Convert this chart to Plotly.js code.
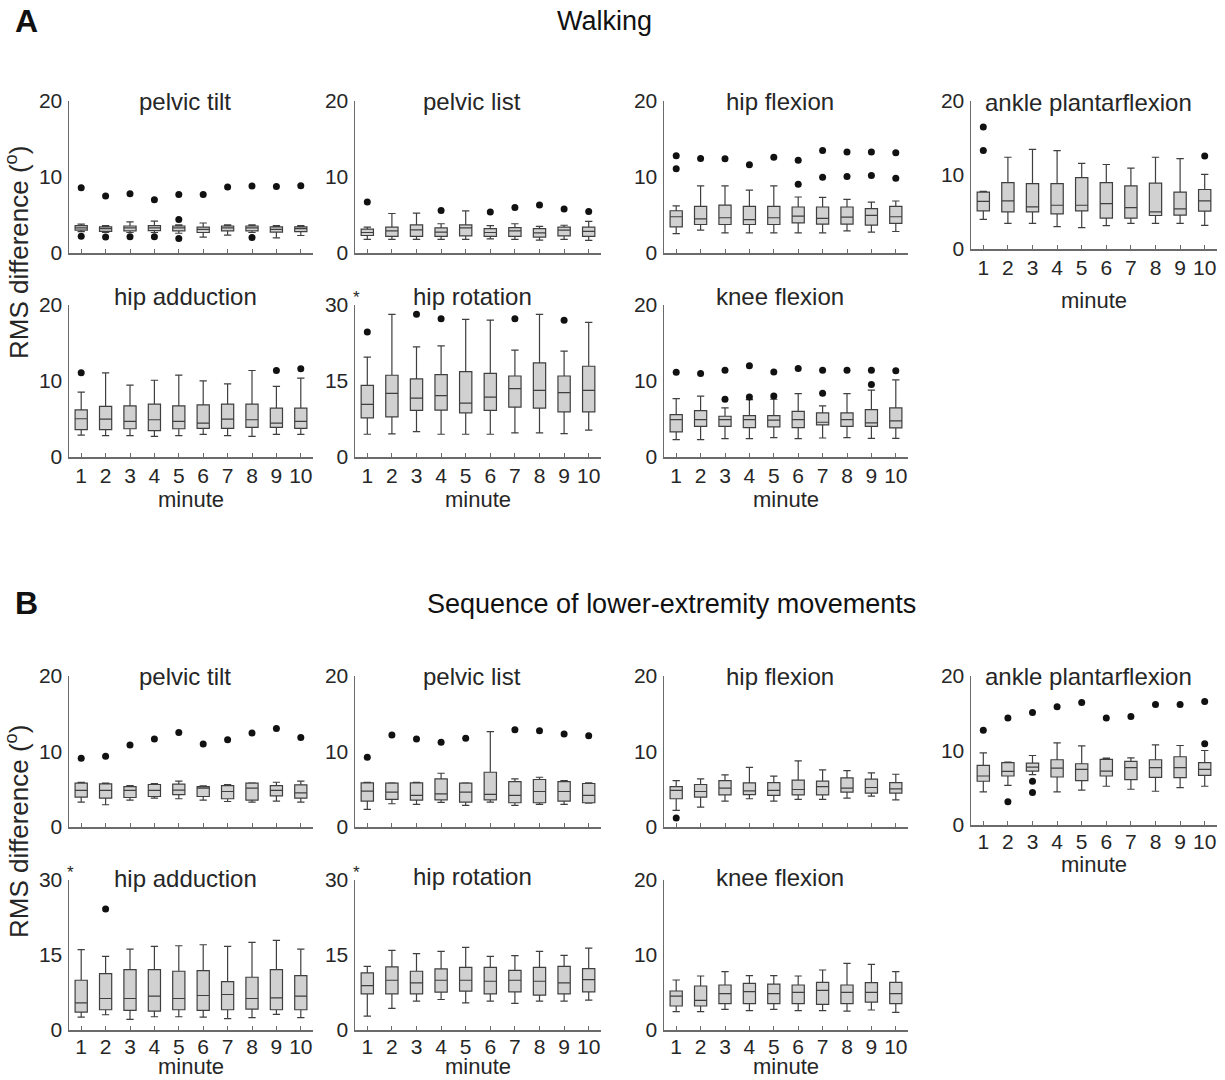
<!DOCTYPE html>
<html>
<head>
<meta charset="utf-8">
<script src="https://cdn.plot.ly/plotly-3.0.1.min.js"></script>
<style>
  html, body { margin: 0; padding: 0; background: #ffffff; }
  #chart { width: 1225px; height: 1080px; }
</style>
</head>
<body>
<div id="chart"></div>
<script>
// ---------- data ----------
// x positions and tick labels (minute of recording)
const minutes = [1, 2, 3, 4, 5, 6, 7, 8, 9, 10];
const minuteLabels = ['1', '2', '3', '4', '5', '6', '7', '8', '9', '10'];

// Each box row: [lower whisker, Q1, median, Q3, upper whisker] per minute (degrees)
// Each outlier row: outlying values for that minute

// A. Walking
const walkPelvicTilt = [
  [2.8, 3.0, 3.3, 3.6, 3.8], [2.7, 2.85, 3.2, 3.45, 3.6], [2.7, 2.9, 3.3, 3.55, 4.1],
  [2.7, 2.95, 3.3, 3.6, 4.2], [2.6, 2.9, 3.3, 3.55, 3.7], [2.1, 2.7, 3.1, 3.4, 3.95],
  [2.35, 2.9, 3.3, 3.55, 3.7], [2.7, 2.9, 3.3, 3.55, 3.7], [2.0, 2.75, 3.1, 3.45, 3.6],
  [2.3, 2.8, 3.2, 3.45, 3.6]
];
const walkPelvicTiltOut = [[8.6, 2.2], [7.5, 2.1], [7.8, 2.15], [7.0, 2.15], [7.7, 4.4, 1.9],
  [7.7], [8.7], [8.8, 2.05], [8.75], [8.85]];

const walkPelvicList = [
  [1.8, 2.3, 2.7, 3.15, 3.4], [1.8, 2.2, 2.9, 3.4, 5.2], [1.8, 2.2, 3.05, 3.7, 5.25],
  [1.8, 2.2, 2.75, 3.3, 3.85], [1.8, 2.25, 3.3, 3.7, 5.55], [1.85, 2.2, 2.7, 3.2, 3.6],
  [1.8, 2.2, 2.9, 3.35, 3.85], [1.7, 2.1, 2.65, 3.2, 3.5], [1.8, 2.25, 3.0, 3.4, 3.65],
  [1.65, 2.2, 2.85, 3.4, 4.15]
];
const walkPelvicListOut = [[6.7], [], [], [5.6], [], [5.4], [6.0], [6.3], [5.8], [5.45]];

const walkHipFlexion = [
  [2.56, 3.44, 4.77, 5.56, 6.2], [3.0, 3.75, 4.5, 6.14, 8.83], [2.65, 3.75, 4.64, 6.3, 8.83],
  [2.65, 3.75, 4.4, 6.14, 8.26], [2.65, 3.75, 4.64, 6.14, 8.83], [2.65, 3.97, 4.86, 6.05, 7.37],
  [2.65, 3.8, 4.55, 6.05, 7.33], [2.9, 3.8, 4.72, 6.05, 7.06], [2.74, 3.66, 4.94, 5.83, 6.7],
  [2.83, 3.89, 4.77, 6.14, 6.84]
];
const walkHipFlexionOut = [[12.8, 11.1], [12.45], [12.4], [11.6], [12.6], [12.2, 9.05],
  [13.5, 9.98], [13.3, 10.07], [13.3, 10.2], [13.2, 9.85]];

const walkAnklePlantarflexion = [
  [4.0, 5.16, 6.44, 7.69, 7.8], [3.47, 5.02, 6.49, 8.98, 12.4], [3.47, 5.02, 5.69, 8.84, 13.47],
  [3.02, 4.76, 5.91, 8.84, 13.3], [2.89, 5.16, 5.91, 9.64, 11.56], [3.16, 4.18, 6.13, 8.98, 11.42],
  [3.47, 4.18, 5.6, 8.53, 10.93], [3.47, 4.53, 5.02, 8.89, 12.4], [3.47, 4.58, 5.42, 7.69, 12.2],
  [3.2, 5.11, 6.49, 8.04, 10.09]
];
const walkAnklePlantarflexionOut = [[16.5, 13.3], [], [], [], [], [], [], [], [], [12.58]];

const walkHipAdduction = [
  [2.89, 3.59, 5.03, 6.21, 8.53], [2.8, 3.59, 4.99, 6.65, 11.07], [2.8, 3.72, 4.68, 6.74, 9.45],
  [2.71, 3.46, 4.9, 6.96, 10.1], [2.8, 3.72, 4.68, 6.74, 10.77], [2.98, 3.76, 4.46, 6.87, 10.02],
  [2.8, 3.76, 4.99, 6.96, 9.63], [2.71, 3.89, 4.9, 6.96, 11.38], [2.98, 3.89, 4.46, 6.43, 9.28],
  [2.98, 3.76, 4.68, 6.43, 10.37]
];
const walkHipAdductionOut = [[11.07], [], [], [], [], [], [], [], [11.38], [11.6]];

const walkHipRotation = [
  [4.49, 7.73, 10.38, 14.14, 19.7], [4.56, 7.93, 12.56, 16.13, 28.16], [5.02, 9.19, 11.63, 15.4, 21.74],
  [4.49, 9.25, 12.1, 16.26, 21.94], [4.49, 8.72, 10.64, 16.85, 27.16], [4.49, 9.19, 11.83, 16.52, 27.03],
  [4.76, 9.85, 13.48, 15.99, 21.08], [4.76, 9.65, 13.15, 18.57, 28.16], [4.63, 8.92, 12.69, 15.99, 20.89],
  [5.29, 8.92, 13.15, 17.91, 26.57]
];
const walkHipRotationOut = [[24.65], [], [28.16], [27.3], [], [], [27.3], [], [26.97], []];

const walkKneeFlexion = [
  [2.29, 3.3, 4.92, 5.58, 7.69], [2.29, 4.04, 4.92, 6.11, 8.0], [2.42, 4.04, 4.92, 5.36, 6.46],
  [2.42, 3.87, 4.92, 5.45, 7.55], [2.55, 3.96, 4.84, 5.45, 7.6], [2.42, 3.87, 4.92, 6.0, 8.35],
  [2.5, 4.22, 4.57, 5.8, 6.73], [2.55, 4.04, 4.92, 5.8, 8.35], [2.46, 4.04, 4.48, 6.24, 8.79],
  [2.46, 3.82, 4.75, 6.46, 10.15]
];
const walkKneeFlexionOut = [[11.16], [10.99], [11.43, 7.6], [12.0, 7.91], [11.2, 8.04], [11.65],
  [11.43, 8.4], [11.43], [11.43, 9.54], [11.34]];

// B. Sequence of lower-extremity movements
const seqPelvicTilt = [
  [3.3, 3.96, 4.84, 5.8, 5.93], [2.95, 3.82, 4.84, 5.71, 5.8], [3.56, 3.91, 4.84, 5.36, 5.5],
  [3.82, 4.04, 4.84, 5.63, 5.75], [3.74, 4.3, 4.88, 5.67, 6.07], [3.56, 4.04, 5.14, 5.36, 5.45],
  [3.38, 3.74, 4.7, 5.49, 5.6], [3.3, 3.56, 5.14, 5.8, 5.85], [3.43, 4.13, 4.84, 5.49, 5.93],
  [3.3, 3.82, 4.53, 5.58, 6.07]
];
const seqPelvicTiltOut = [[9.1], [9.36], [10.86], [11.65], [12.53], [10.99], [11.56], [12.44], [13.05], [11.87]];

const seqPelvicList = [
  [2.33, 3.43, 4.75, 5.85, 5.93], [3.08, 3.65, 4.62, 5.8, 5.85], [2.99, 3.56, 4.18, 5.85, 5.9],
  [3.25, 3.6, 4.4, 6.37, 7.12], [2.86, 3.3, 4.62, 5.8, 5.85], [3.3, 3.6, 4.31, 7.25, 12.62],
  [2.86, 3.21, 4.18, 6.02, 6.37], [2.99, 3.21, 4.7, 6.29, 6.59], [2.99, 3.43, 4.7, 6.02, 6.15],
  [3.16, 3.21, 4.18, 5.76, 5.85]
];
const seqPelvicListOut = [[9.23], [12.18], [11.65], [11.21], [11.74], [], [12.88], [12.75], [12.31], [12.09]];

const seqHipFlexion = [
  [2.2, 3.74, 4.84, 5.36, 6.15], [2.64, 3.96, 4.7, 5.63, 6.37], [3.43, 4.26, 5.14, 6.15, 6.9],
  [3.74, 4.3, 4.79, 5.85, 7.91], [3.43, 4.18, 4.84, 5.89, 6.73], [3.65, 4.26, 4.97, 6.2, 8.75],
  [3.65, 4.26, 5.36, 6.07, 7.56], [3.82, 4.62, 5.14, 6.51, 7.47], [4.09, 4.48, 5.23, 6.33, 7.16],
  [3.6, 4.48, 5.05, 5.89, 6.99]
];
const seqHipFlexionOut = [[1.19], [], [], [], [], [], [], [], [], []];

const seqAnklePlantarflexion = [
  [4.44, 5.87, 6.58, 8.0, 9.69], [5.33, 6.58, 7.2, 8.36, 8.44], [6.76, 7.24, 7.78, 8.31, 9.33],
  [4.44, 6.44, 7.64, 8.76, 11.02], [4.67, 5.96, 7.47, 8.22, 10.62], [5.2, 6.58, 7.24, 8.8, 8.98],
  [4.8, 6.09, 7.69, 8.53, 9.02], [4.53, 6.4, 7.69, 8.76, 10.76], [5.02, 6.36, 7.69, 9.16, 10.67],
  [5.2, 6.67, 7.47, 8.36, 10.0]
];
const seqAnklePlantarflexionOut = [[12.71], [14.36, 3.11], [15.11, 5.87, 4.36], [15.87], [16.44],
  [14.36], [14.58], [16.18], [16.18], [16.58, 10.89]];

const seqHipAdduction = [
  [2.59, 3.58, 5.44, 9.95, 16.06], [3.05, 4.05, 6.3, 11.28, 14.73], [2.12, 3.92, 6.3, 12.08, 16.19],
  [2.65, 3.78, 6.77, 12.08, 16.72], [2.65, 4.05, 6.3, 11.75, 16.85], [2.59, 3.92, 6.9, 11.88, 17.05],
  [2.26, 4.05, 7.1, 9.69, 16.72], [2.46, 4.18, 6.3, 10.55, 17.52], [3.12, 4.05, 6.44, 12.08, 17.92],
  [2.46, 4.05, 6.77, 10.88, 16.19]
];
const seqHipAdductionOut = [[], [24.22], [], [], [], [], [], [], [], []];

const seqHipRotation = [
  [2.79, 7.23, 8.89, 11.41, 12.74], [4.31, 7.23, 9.95, 12.61, 15.93], [5.77, 7.23, 9.42, 11.75, 15.26],
  [6.1, 7.56, 9.95, 12.21, 15.73], [5.44, 7.76, 9.95, 12.54, 16.52], [5.77, 7.23, 9.75, 12.54, 14.73],
  [5.31, 7.63, 9.95, 11.94, 14.86], [5.77, 6.97, 9.75, 12.54, 15.73], [5.77, 7.23, 9.42, 12.74, 14.93],
  [5.97, 7.63, 10.09, 12.28, 16.39]
];
const seqHipRotationOut = [[], [], [], [], [], [], [], [], [], []];

const seqKneeFlexion = [
  [2.44, 3.2, 4.53, 5.2, 6.67], [2.44, 3.2, 3.96, 5.87, 7.2], [2.76, 3.51, 4.84, 6.0, 7.78],
  [2.58, 3.51, 5.11, 6.22, 7.24], [2.76, 3.51, 4.84, 6.13, 7.24], [2.58, 3.51, 5.02, 6.0, 7.2],
  [2.58, 3.42, 5.29, 6.36, 8.0], [2.53, 3.51, 5.02, 6.0, 8.89], [2.67, 3.73, 5.02, 6.31, 8.76],
  [2.36, 3.51, 4.84, 6.36, 7.78]
];
const seqKneeFlexionOut = [[], [], [], [], [], [], [], [], [], []];

// ---------- figure geometry (pixels) ----------
const W = 1225, H = 1080;
const cols = { c1: [69, 313], c2: [355, 601], c3: [664, 908], c4: [971, 1217] };
const rows = {
  aTop: [101, 253], aAnkle: [101, 249], aBot: [305, 457],
  bTop: [676, 827], bAnkle: [676, 825], bBot: [880, 1030]
};

// one entry per axes: data, placement, labels
const panels = [
  { box: walkPelvicTilt, out: walkPelvicTiltOut, title: 'pelvic tilt', col: 'c1', row: 'aTop', ymax: 20, titleY: 101 },
  { box: walkPelvicList, out: walkPelvicListOut, title: 'pelvic list', col: 'c2', row: 'aTop', ymax: 20, titleY: 101 },
  { box: walkHipFlexion, out: walkHipFlexionOut, title: 'hip flexion', col: 'c3', row: 'aTop', ymax: 20, titleY: 101 },
  { box: walkAnklePlantarflexion, out: walkAnklePlantarflexionOut, title: 'ankle plantarflexion', col: 'c4', row: 'aAnkle', ymax: 20, titleY: 102, xlab: true, labGap: -1, minuteY: 301 },
  { box: walkHipAdduction, out: walkHipAdductionOut, title: 'hip adduction', col: 'c1', row: 'aBot', ymax: 20, titleY: 296, xlab: true, labGap: -1, minuteY: 499 },
  { box: walkHipRotation, out: walkHipRotationOut, title: 'hip rotation', col: 'c2', row: 'aBot', ymax: 30, titleY: 296, xlab: true, labGap: -1, minuteY: 499, star: true },
  { box: walkKneeFlexion, out: walkKneeFlexionOut, title: 'knee flexion', col: 'c3', row: 'aBot', ymax: 20, titleY: 296, xlab: true, labGap: -1, minuteY: 499 },
  { box: seqPelvicTilt, out: seqPelvicTiltOut, title: 'pelvic tilt', col: 'c1', row: 'bTop', ymax: 20, titleY: 676 },
  { box: seqPelvicList, out: seqPelvicListOut, title: 'pelvic list', col: 'c2', row: 'bTop', ymax: 20, titleY: 676 },
  { box: seqHipFlexion, out: seqHipFlexionOut, title: 'hip flexion', col: 'c3', row: 'bTop', ymax: 20, titleY: 676 },
  { box: seqAnklePlantarflexion, out: seqAnklePlantarflexionOut, title: 'ankle plantarflexion', col: 'c4', row: 'bAnkle', ymax: 20, titleY: 676, xlab: true, labGap: -3, minuteY: 864 },
  { box: seqHipAdduction, out: seqHipAdductionOut, title: 'hip adduction', col: 'c1', row: 'bBot', ymax: 30, titleY: 878, xlab: true, labGap: -3, minuteY: 1066, star: true },
  { box: seqHipRotation, out: seqHipRotationOut, title: 'hip rotation', col: 'c2', row: 'bBot', ymax: 30, titleY: 876, xlab: true, labGap: -3, minuteY: 1066, star: true },
  { box: seqKneeFlexion, out: seqKneeFlexionOut, title: 'knee flexion', col: 'c3', row: 'bBot', ymax: 20, titleY: 877, xlab: true, labGap: -3, minuteY: 1066 }
];

// ---------- styling ----------
const FONT = 'Liberation Sans, Arial, Helvetica, sans-serif';
const AXIS_GREY = '#6b6b6b';
const TEXT = '#262626';
const BOX_EDGE = '#3f3f3f';
const BOX_FILL = '#d1d1d1';

const fx = px => px / W;
const fy = py => 1 - py / H;

const traces = [];
const layout = {
  width: W, height: H,
  margin: { l: 0, r: 0, t: 0, b: 0 },
  paper_bgcolor: '#ffffff', plot_bgcolor: 'rgba(0,0,0,0)',
  showlegend: false,
  hovermode: false,
  font: { family: FONT, color: TEXT },
  annotations: []
};

panels.forEach((p, i) => {
  const n = i + 1;
  const xa = n === 1 ? 'x' : 'x' + n;
  const ya = n === 1 ? 'y' : 'y' + n;
  const xKey = n === 1 ? 'xaxis' : 'xaxis' + n;
  const yKey = n === 1 ? 'yaxis' : 'yaxis' + n;
  const [x0, x1] = cols[p.col];
  const [yTop, yBot] = rows[p.row];

  traces.push({
    type: 'box',
    x: minutes,
    lowerfence: p.box.map(r => r[0]),
    q1: p.box.map(r => r[1]),
    median: p.box.map(r => r[2]),
    q3: p.box.map(r => r[3]),
    upperfence: p.box.map(r => r[4]),
    width: 0.5,
    whiskerwidth: 0.6,
    boxpoints: false,
    fillcolor: BOX_FILL,
    line: { color: BOX_EDGE, width: 1.2 },
    xaxis: xa, yaxis: ya,
    hoverinfo: 'skip'
  });

  const ox = [], oy = [];
  p.out.forEach((vals, k) => vals.forEach(v => { ox.push(minutes[k]); oy.push(v); }));
  traces.push({
    type: 'scatter', mode: 'markers',
    x: ox, y: oy,
    marker: { color: '#111111', size: 7 },
    cliponaxis: false,
    xaxis: xa, yaxis: ya,
    hoverinfo: 'skip'
  });

  layout[xKey] = {
    domain: [fx(x0), fx(x1)],
    anchor: ya,
    range: [0.5, 10.5],
    tickmode: 'array', tickvals: minutes, ticktext: minuteLabels,
    showticklabels: !!p.xlab,
    ticks: 'inside', ticklen: 4, tickcolor: AXIS_GREY, tickwidth: 1,
    ticklabelstandoff: p.labGap || 0,
    tickfont: { family: FONT, size: 21, color: TEXT },
    showline: true, linecolor: AXIS_GREY, linewidth: 1.5,
    showgrid: false, zeroline: false, fixedrange: true
  };
  layout[yKey] = {
    domain: [fy(yBot), fy(yTop)],
    anchor: xa,
    range: [0, p.ymax],
    tickmode: 'array',
    tickvals: p.ymax === 30 ? [0, 15, 30] : [0, 10, 20],
    ticks: '',
    ticklabelstandoff: 1,
    tickfont: { family: FONT, size: 21, color: TEXT },
    showline: true, linecolor: AXIS_GREY, linewidth: 1.5,
    showgrid: false, zeroline: false, fixedrange: true
  };

  // subplot title
  layout.annotations.push({
    xref: 'paper', yref: 'paper',
    x: fx((x0 + x1) / 2 - 6), y: fy(p.titleY),
    xanchor: 'center', yanchor: 'middle',
    text: p.title, showarrow: false,
    font: { family: FONT, size: 24, color: TEXT }
  });
  if (p.minuteY) {
    layout.annotations.push({
      xref: 'paper', yref: 'paper',
      x: fx((x0 + x1) / 2), y: fy(p.minuteY),
      xanchor: 'center', yanchor: 'middle',
      text: 'minute', showarrow: false,
      font: { family: FONT, size: 22, color: TEXT }
    });
  }
  if (p.star) {
    layout.annotations.push({
      xref: 'paper', yref: 'paper',
      x: fx(x0 + 1), y: fy(yTop - 8),
      xanchor: 'center', yanchor: 'middle',
      text: '*', showarrow: false,
      font: { family: FONT, size: 17, color: TEXT }
    });
  }
});

// panel letters, section titles and shared y labels
const sectionText = [
  { text: '<b>A</b>', x: 26, y: 21, size: 32 },
  { text: 'Walking', x: 604, y: 21, size: 27 },
  { text: '<b>B</b>', x: 26, y: 603, size: 32 },
  { text: 'Sequence of lower-extremity movements', x: 671, y: 604, size: 27 }
];
sectionText.forEach(s => layout.annotations.push({
  xref: 'paper', yref: 'paper', x: fx(s.x), y: fy(s.y),
  xanchor: 'center', yanchor: 'middle', showarrow: false,
  text: s.text, font: { family: FONT, size: s.size, color: '#111111' }
}));
[253, 832].forEach(cy => layout.annotations.push({
  xref: 'paper', yref: 'paper', x: fx(17), y: fy(cy),
  xanchor: 'center', yanchor: 'middle', showarrow: false, textangle: -90,
  text: 'RMS difference (<sup>o</sup>)', font: { family: FONT, size: 26, color: TEXT }
}));

Plotly.newPlot('chart', traces, layout, { staticPlot: true, displayModeBar: false });
</script>
</body>
</html>
